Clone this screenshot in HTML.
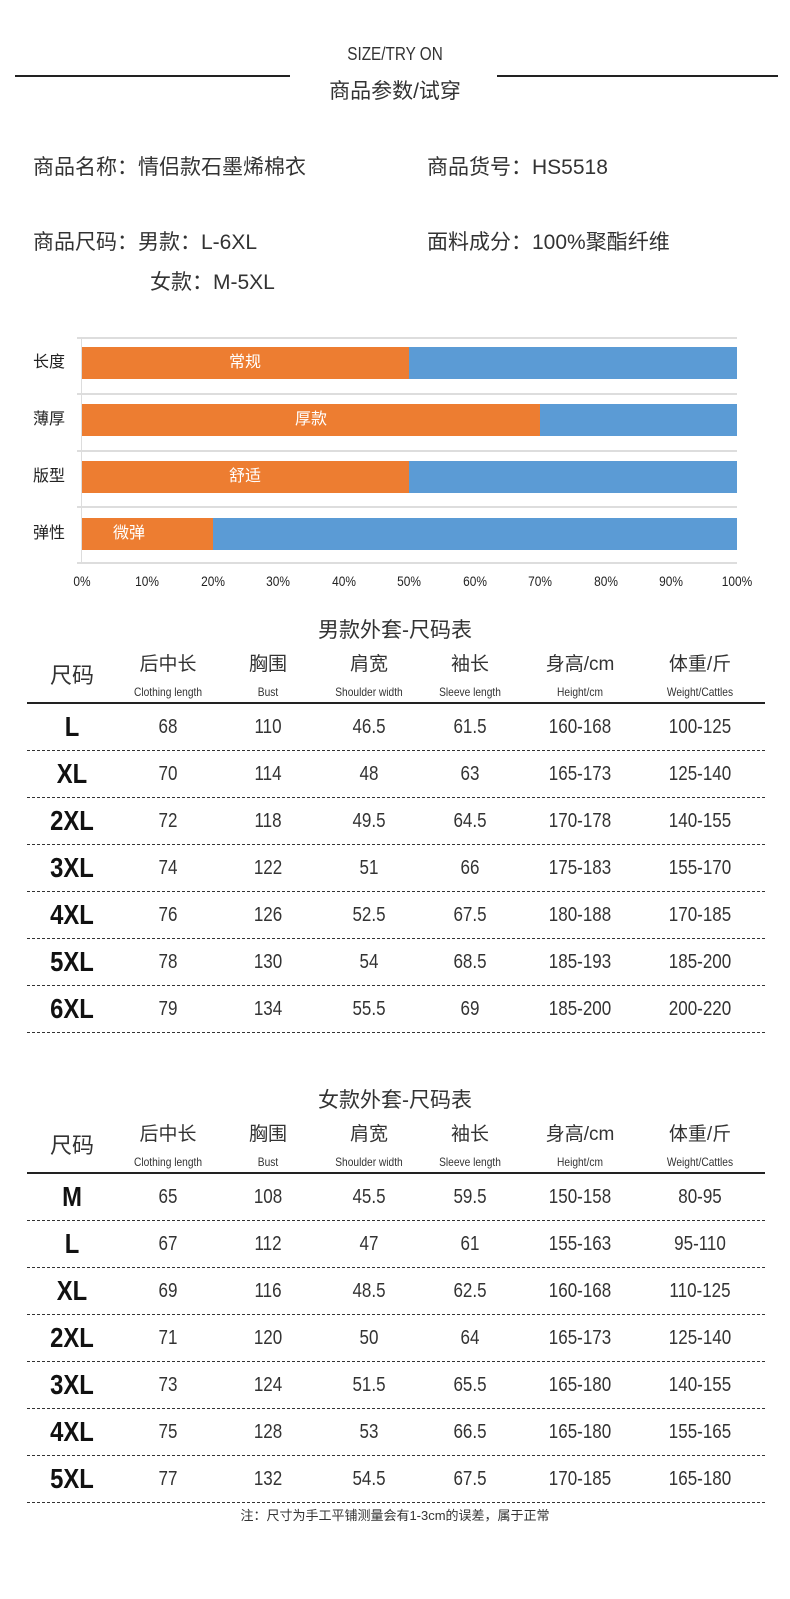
<!DOCTYPE html>
<html><head><meta charset="utf-8"><style>
body{margin:0;width:790px;height:1599px;background:#fff;position:relative;overflow:hidden;font-family:"Liberation Sans","Noto Sans CJK SC",sans-serif;color:#222}
.a{position:absolute;white-space:nowrap;line-height:1}
.c{transform:translateX(-50%)}
.n{font-family:"Liberation Sans Narrow","Liberation Sans","Noto Sans CJK SC",sans-serif}
.c.n{transform:translateX(-50%) scaleX(0.85)}
.hl{position:absolute;height:2px;background:#222}
.dl{position:absolute;left:27px;width:738px;border-top:1px dashed #333;height:0}
.g{position:absolute;left:77px;width:660px;height:2px;background:#ddd}
.bar{position:absolute;height:32px}
.o{background:#ed7d31}.b{background:#5b9bd5}
</style></head><body>
<div class="a c n" style="left:395px;top:45px;font-size:18px;color:#333">SIZE/TRY ON</div>
<div class="hl" style="left:15px;width:275px;top:75px"></div>
<div class="hl" style="left:497px;width:281px;top:75px"></div>
<div class="a c" style="left:395px;top:81px;font-size:21px;color:#333">商品参数/试穿</div>

<div class="a" style="left:33px;top:157px;font-size:21px;color:#333">商品名称：情侣款石墨烯棉衣</div>
<div class="a" style="left:427px;top:157px;font-size:21px;color:#333">商品货号：HS5518</div>
<div class="a" style="left:33px;top:232px;font-size:21px;color:#333">商品尺码：男款：L-6XL</div>
<div class="a" style="left:150px;top:272px;font-size:21px;color:#333">女款：M-5XL</div>
<div class="a" style="left:427px;top:232px;font-size:21px;color:#333">面料成分：100%聚酯纤维</div>

<div class="g" style="top:337px"></div><div class="g" style="top:393px"></div><div class="g" style="top:450px"></div><div class="g" style="top:506px"></div><div class="g" style="top:562px"></div>
<div style="position:absolute;left:81px;top:338px;width:1px;height:226px;background:#ddd"></div>
<div class="bar o" style="left:82px;width:327px;top:347px"></div><div class="bar b" style="left:409px;width:328px;top:347px"></div>
<div class="bar o" style="left:82px;width:458px;top:404px"></div><div class="bar b" style="left:540px;width:197px;top:404px"></div>
<div class="bar o" style="left:82px;width:327px;top:461px"></div><div class="bar b" style="left:409px;width:328px;top:461px"></div>
<div class="bar o" style="left:82px;width:131px;top:518px"></div><div class="bar b" style="left:213px;width:524px;top:518px"></div>
<div class="a c" style="left:245px;top:355px;font-size:16px;color:#fff">常规</div>
<div class="a c" style="left:311px;top:412px;font-size:16px;color:#fff">厚款</div>
<div class="a c" style="left:245px;top:469px;font-size:16px;color:#fff">舒适</div>
<div class="a c" style="left:129px;top:526px;font-size:16px;color:#fff">微弹</div>
<div class="a" style="left:33px;top:355px;font-size:16px">长度</div>
<div class="a" style="left:33px;top:412px;font-size:16px">薄厚</div>
<div class="a" style="left:33px;top:469px;font-size:16px">版型</div>
<div class="a" style="left:33px;top:526px;font-size:16px">弹性</div>
<div class="a c n" style="left:82px;top:574px;font-size:14px">0%</div>
<div class="a c n" style="left:147px;top:574px;font-size:14px">10%</div>
<div class="a c n" style="left:213px;top:574px;font-size:14px">20%</div>
<div class="a c n" style="left:278px;top:574px;font-size:14px">30%</div>
<div class="a c n" style="left:344px;top:574px;font-size:14px">40%</div>
<div class="a c n" style="left:409px;top:574px;font-size:14px">50%</div>
<div class="a c n" style="left:475px;top:574px;font-size:14px">60%</div>
<div class="a c n" style="left:540px;top:574px;font-size:14px">70%</div>
<div class="a c n" style="left:606px;top:574px;font-size:14px">80%</div>
<div class="a c n" style="left:671px;top:574px;font-size:14px">90%</div>
<div class="a c n" style="left:737px;top:574px;font-size:14px">100%</div>

<div id="t1"></div><div id="t2"></div>
<div class="a c" style="left:395px;top:1509px;font-size:13px;color:#333">注：尺寸为手工平铺测量会有1-3cm的误差，属于正常</div>
<script>
var cols=[72,168,268,369,470,580,700];
var hc=["后中长","胸围","肩宽","袖长","身高/cm","体重/斤"];
var he=["Clothing length","Bust","Shoulder width","Sleeve length","Height/cm","Weight/Cattles"];
function tbl(top,title,rows){
 var h='<div class="a c" style="left:395px;top:'+(top-10)+'px;font-size:21px;color:#333">'+title+'</div>';
 h+='<div class="a c" style="left:72px;top:'+(top+35)+'px;font-size:22px;color:#333">尺码</div>';
 for(var i=0;i<6;i++){
  h+='<div class="a c" style="left:'+cols[i+1]+'px;top:'+(top+25)+'px;font-size:19px;color:#333">'+hc[i]+'</div>';
  h+='<div class="a c n" style="left:'+cols[i+1]+'px;top:'+(top+56)+'px;font-size:12px;color:#333">'+he[i]+'</div>';
 }
 h+='<div class="hl" style="left:27px;width:738px;top:'+(top+72)+'px"></div>';
 for(var r=0;r<rows.length;r++){
  var y=top+97+r*47;
  for(var c=0;c<7;c++){
   var s=c==0?'font-size:28px;font-weight:bold;color:#111':'font-size:20px;color:#333';
   h+='<div class="a c n" style="left:'+cols[c]+'px;top:'+(y-(c==0?14:10))+'px;'+s+'">'+rows[r][c]+'</div>';
  }
  h+='<div class="dl" style="top:'+(y+23)+'px"></div>';
 }
 return h;
}
document.getElementById('t1').outerHTML=tbl(630,"男款外套-尺码表",[
["L",68,110,46.5,61.5,"160-168","100-125"],["XL",70,114,48,63,"165-173","125-140"],["2XL",72,118,49.5,64.5,"170-178","140-155"],["3XL",74,122,51,66,"175-183","155-170"],["4XL",76,126,52.5,67.5,"180-188","170-185"],["5XL",78,130,54,68.5,"185-193","185-200"],["6XL",79,134,55.5,69,"185-200","200-220"]]);
document.getElementById('t2').outerHTML=tbl(1100,"女款外套-尺码表",[
["M",65,108,45.5,59.5,"150-158","80-95"],["L",67,112,47,61,"155-163","95-110"],["XL",69,116,48.5,62.5,"160-168","110-125"],["2XL",71,120,50,64,"165-173","125-140"],["3XL",73,124,51.5,65.5,"165-180","140-155"],["4XL",75,128,53,66.5,"165-180","155-165"],["5XL",77,132,54.5,67.5,"170-185","165-180"]]);
</script>
</body></html>
